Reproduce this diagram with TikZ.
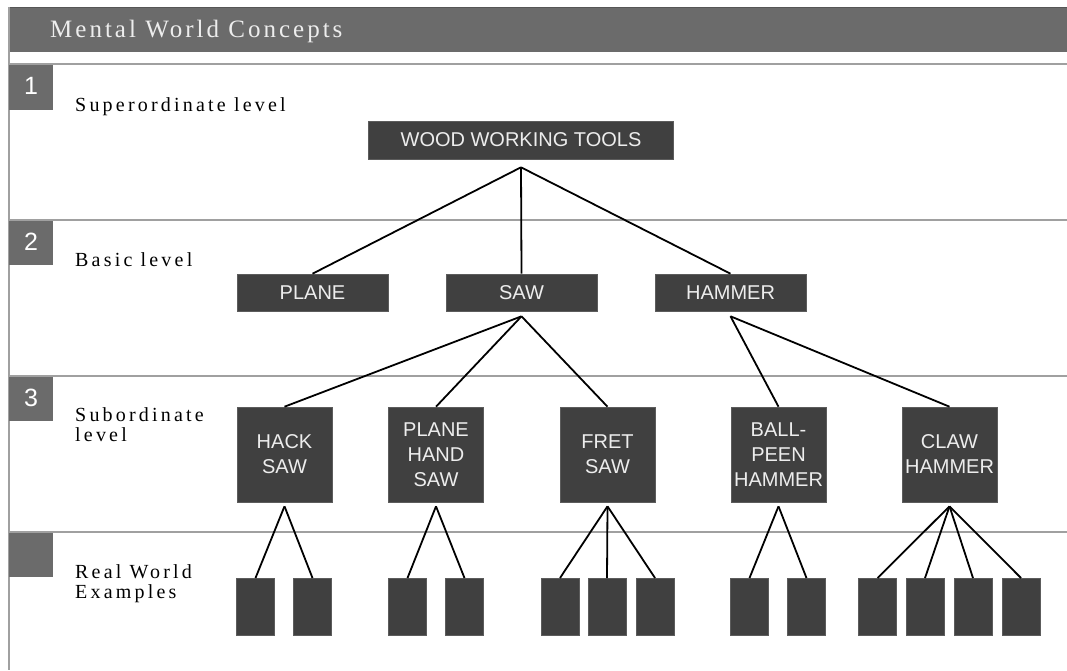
\documentclass[tikz,border=0pt]{standalone}
\usepackage{fontspec}
\setmainfont{Liberation Serif}
\setsansfont{Liberation Sans}
\newfontfamily\levelfont[LetterSpace=16]{Liberation Serif}
\newfontfamily\titlefont[LetterSpace=12]{Liberation Serif}

\definecolor{bandgray}{HTML}{6B6B6B}
\definecolor{rulegray}{HTML}{A0A0A0}
\definecolor{boxgray}{HTML}{404040}
\definecolor{boxedge}{HTML}{5C5C5C}
\definecolor{boxtext}{HTML}{EDEDED}

\begin{document}
\begin{tikzpicture}[x=1pt,y=-1pt,
  toolbox/.style={fill=boxgray, draw=boxedge, line width=0.6pt, inner sep=0pt,
    text=boxtext, align=center, font=\sffamily\fontsize{20}{25}\selectfont},
  levelbox/.style={toolbox, minimum width=151pt, minimum height=37pt},
  kindbox/.style={toolbox, minimum width=95pt, minimum height=95pt},
  examplebox/.style={toolbox, minimum width=38pt, minimum height=57pt, anchor=north},
  levelname/.style={anchor=base west, inner sep=0pt, align=left,
    font=\levelfont\fontsize{20}{20}\selectfont},
  tabnum/.style={inner sep=0pt, text=white, font=\sffamily\fontsize{25}{25}\selectfont},
  link/.style={line width=1.8pt}]
  \useasboundingbox (0,0) rectangle (1067,670);

  % frame, header band and level rules
  \fill[bandgray] (9,7) rectangle (1067,52);
  \draw[line width=1.5pt, bandgray!80!black] (9,7.5) -- (1067,7.5);
  \node[name=title, anchor=base west, inner sep=0pt, text=boxtext,
    font=\titlefont\fontsize{25}{25}\selectfont] at (50,37) {Mental World Concepts};
  \draw[line width=2pt, rulegray] (9,7) -- (9,670);
  \draw[line width=2pt, rulegray] (9,64) -- (1067,64);
  \draw[line width=2pt, rulegray] (9,220) -- (1067,220);
  \draw[line width=2pt, rulegray] (9,376) -- (1067,376);
  \draw[line width=2pt, rulegray] (9,532) -- (1067,532);

  \fill[bandgray] (9,65) rectangle (53,110);
  \fill[bandgray] (9,221) rectangle (53,265);
  \fill[bandgray] (9,377) rectangle (53,421);
  \fill[bandgray] (9,533) rectangle (53,577);
  \node[name=tab1, tabnum] at (31,86) {1};
  \node[name=tab2, tabnum] at (31,242) {2};
  \node[name=tab3, tabnum] at (31,398) {3};

  \node[name=super, levelname] at (75,111) {Superordinate level};
  \node[name=basic, levelname] at (75,266) {Basic level};
  \node[name=sub, levelname] at (75,441) {Subordinate\\level};
  \node[name=real, levelname] at (75,598) {Real World\\Examples};

  % superordinate and basic level
  \node[name=wwt, toolbox, minimum width=305pt, minimum height=38pt] at (521,140) {WOOD WORKING TOOLS};
  \node[name=plane, levelbox] at (312.5,292.5) {PLANE};
  \node[name=saw, levelbox] at (521.5,292.5) {SAW};
  \node[name=hammer, levelbox] at (730.5,292.5) {HAMMER};
  \coordinate (wwt-apex) at ([yshift=-8pt]wwt.south);
  \draw[link] (wwt-apex) -- (plane.north);
  \draw[link] (wwt-apex) -- (saw.north);
  \draw[link] (wwt-apex) -- (hammer.north);

  % subordinate level
  \node[name=hack, kindbox] at (284.5,454.5) {HACK\\SAW};
  \node[name=phsaw, kindbox] at (436,454.5) {PLANE\\HAND\\SAW};
  \node[name=fret, kindbox] at (607.5,454.5) {FRET\\SAW};
  \node[name=ball, kindbox] at (778.5,454.5) {BALL-\\PEEN\\HAMMER};
  \node[name=claw, kindbox] at (949.5,454.5) {CLAW\\HAMMER};
  \coordinate (saw-apex) at ([yshift=-5pt]saw.south);
  \coordinate (hammer-apex) at ([yshift=-5pt]hammer.south);
  \draw[link] (saw-apex) -- (hack.north);
  \draw[link] (saw-apex) -- (phsaw.north);
  \draw[link] (saw-apex) -- (fret.north);
  \draw[link] (hammer-apex) -- (ball.north);
  \draw[link] (hammer-apex) -- (claw.north);

  % real world examples
  \node[name=hack-a, examplebox] at (255.5,578) {};
  \node[name=hack-b, examplebox] at (312.5,578) {};
  \node[name=phsaw-a, examplebox] at (407.5,578) {};
  \node[name=phsaw-b, examplebox] at (464.5,578) {};
  \node[name=fret-a, examplebox] at (560,578) {};
  \node[name=fret-b, examplebox] at (607,578) {};
  \node[name=fret-c, examplebox] at (655,578) {};
  \node[name=ball-a, examplebox] at (749.5,578) {};
  \node[name=ball-b, examplebox] at (806.5,578) {};
  \node[name=claw-a, examplebox] at (877.5,578) {};
  \node[name=claw-b, examplebox] at (925,578) {};
  \node[name=claw-c, examplebox] at (973,578) {};
  \node[name=claw-d, examplebox] at (1021,578) {};

  \coordinate (hack-apex) at ([yshift=-4pt]hack.south);
  \coordinate (phsaw-apex) at ([yshift=-4pt]phsaw.south);
  \coordinate (fret-apex) at ([yshift=-4pt]fret.south);
  \coordinate (ball-apex) at ([yshift=-4pt]ball.south);
  \coordinate (claw-apex) at ([yshift=-4pt]claw.south);
  \draw[link] (hack-apex) -- (hack-a.north);
  \draw[link] (hack-apex) -- (hack-b.north);
  \draw[link] (phsaw-apex) -- (phsaw-a.north);
  \draw[link] (phsaw-apex) -- (phsaw-b.north);
  \draw[link] (fret-apex) -- (fret-a.north);
  \draw[link] (fret-apex) -- (fret-b.north);
  \draw[link] (fret-apex) -- (fret-c.north);
  \draw[link] (ball-apex) -- (ball-a.north);
  \draw[link] (ball-apex) -- (ball-b.north);
  \draw[link] (claw-apex) -- (claw-a.north);
  \draw[link] (claw-apex) -- (claw-b.north);
  \draw[link] (claw-apex) -- (claw-c.north);
  \draw[link] (claw-apex) -- (claw-d.north);
\end{tikzpicture}
\end{document}
